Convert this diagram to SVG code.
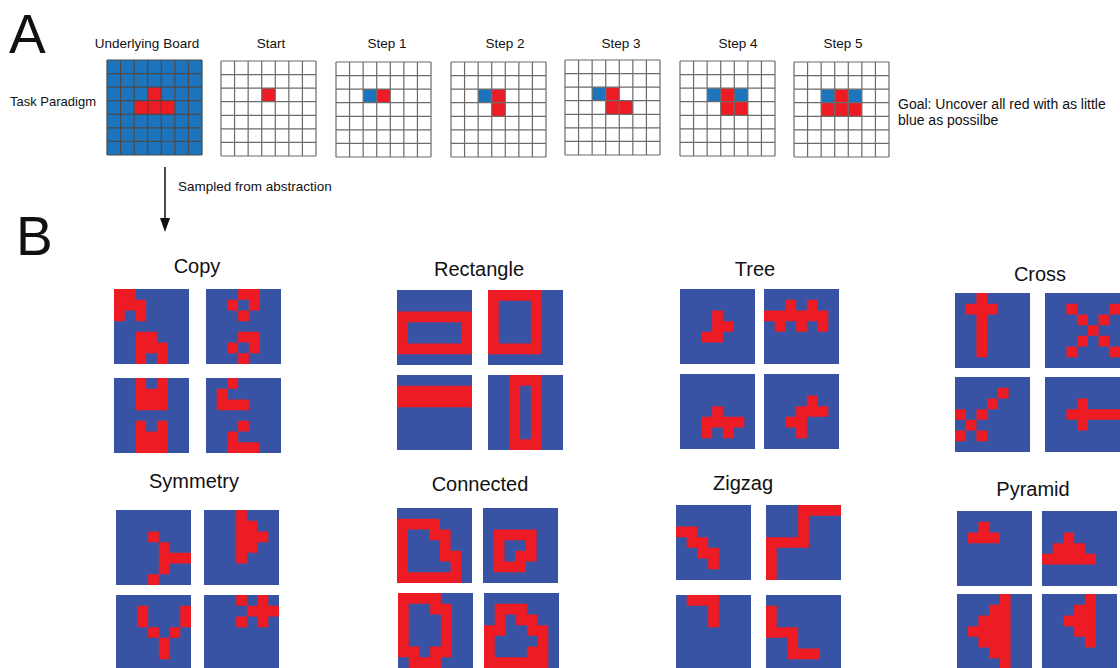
<svg xmlns="http://www.w3.org/2000/svg" xmlns:xlink="http://www.w3.org/1999/xlink" width="1120" height="668" viewBox="0 0 1120 668">
<style>
text{font-family:"Liberation Sans",Arial,sans-serif;fill:#111}
.big{font-size:55px}
.lab{font-size:13.5px;text-anchor:middle}
.side{font-size:13px}
.goal{font-size:14px}
.ttl{font-size:20px;text-anchor:middle}
.bb{fill:#3953a4}
.rb{fill:#ed1c24}
.ab{fill:#1c75bc}
.wh{fill:#ffffff}
</style>
<defs>
<path id="gl" fill="none" vector-effect="non-scaling-stroke" d="M0 0H7M0 1H7M0 2H7M0 3H7M0 4H7M0 5H7M0 6H7M0 7H7M0 0V7M1 0V7M2 0V7M3 0V7M4 0V7M5 0V7M6 0V7M7 0V7"/>
<rect id="bsq" width="7" height="7"/>
<marker id="ah" markerWidth="14" markerHeight="10" refX="1" refY="5" orient="auto" markerUnits="userSpaceOnUse" viewBox="0 0 14 10">
<path d="M0 0L14 5L0 10Z" fill="#111"/>
</marker>
</defs>

<g id="panel-A">
<text class="big" x="9" y="53">A</text>
<text class="side" x="10" y="106">Task Paradigm</text>
<g id="board" transform="translate(107,60) scale(13.571)">
<rect class="ab" width="7" height="7"/>
<path class="rb" d="M3 2h1v1h-1zM2 3h3v1h-3z"/>
<use xlink:href="#gl" stroke="#4a4a4a" stroke-width="1.2"/>
</g>
<text class="lab" x="147" y="48">Underlying Board</text>
<g id="start" transform="translate(221,61) scale(13.571)">
<rect class="wh" width="7" height="7"/>
<path class="rb" d="M3 2h1v1h-1z"/>
<use xlink:href="#gl" stroke="#6b6b6b" stroke-width="1.2"/>
</g>
<text class="lab" x="271" y="48">Start</text>
<g id="step1" transform="translate(336,62) scale(13.571)">
<rect class="wh" width="7" height="7"/>
<path class="ab" d="M2 2h1v1h-1z"/>
<path class="rb" d="M3 2h1v1h-1z"/>
<use xlink:href="#gl" stroke="#6b6b6b" stroke-width="1.2"/>
</g>
<text class="lab" x="387" y="48">Step 1</text>
<g id="step2" transform="translate(451,62) scale(13.571)">
<rect class="wh" width="7" height="7"/>
<path class="ab" d="M2 2h1v1h-1z"/>
<path class="rb" d="M3 2h1v2h-1z"/>
<use xlink:href="#gl" stroke="#6b6b6b" stroke-width="1.2"/>
</g>
<text class="lab" x="505" y="48">Step 2</text>
<g id="step3" transform="translate(565,60) scale(13.571)">
<rect class="wh" width="7" height="7"/>
<path class="ab" d="M2 2h1v1h-1z"/>
<path class="rb" d="M3 2h1v1h-1zM3 3h2v1h-2z"/>
<use xlink:href="#gl" stroke="#6b6b6b" stroke-width="1.2"/>
</g>
<text class="lab" x="621" y="48">Step 3</text>
<g id="step4" transform="translate(680,61) scale(13.571)">
<rect class="wh" width="7" height="7"/>
<path class="ab" d="M2 2h1v1h-1zM4 2h1v1h-1z"/>
<path class="rb" d="M3 2h1v1h-1zM3 3h2v1h-2z"/>
<use xlink:href="#gl" stroke="#6b6b6b" stroke-width="1.2"/>
</g>
<text class="lab" x="738" y="48">Step 4</text>
<g id="step5" transform="translate(794,62) scale(13.571)">
<rect class="wh" width="7" height="7"/>
<path class="ab" d="M2 2h1v1h-1zM4 2h1v1h-1z"/>
<path class="rb" d="M3 2h1v1h-1zM2 3h3v1h-3z"/>
<use xlink:href="#gl" stroke="#6b6b6b" stroke-width="1.2"/>
</g>
<text class="lab" x="843" y="48">Step 5</text>
<text class="goal" x="898" y="109">Goal: Uncover all red with as little</text>
<text class="goal" x="898" y="125">blue as possilbe</text>
</g>

<g id="connectors">
<line x1="165" y1="167" x2="165" y2="219" stroke="#111" stroke-width="1.5" marker-end="url(#ah)"/>
<text class="side" x="178" y="191" style="font-size:13.5px">Sampled from abstraction</text>
</g>

<g id="panel-B">
<text class="big" x="16" y="255">B</text>

<g id="copy">
<text class="ttl" x="197" y="273">Copy</text>
<g transform="translate(114,289) scale(10.714)"><use xlink:href="#bsq" class="bb"/><path class="rb" d="M0 0h2v1h-2zM0 1h3v1h-3zM0 2h1v1h-1zM2 2h1v1h-1zM2 4h2v1h-2zM2 5h3v1h-3zM2 6h1v1h-1zM4 6h1v1h-1z"/></g>
<g transform="translate(206,289) scale(10.714)"><use xlink:href="#bsq" class="bb"/><path class="rb" d="M3 0h2v1h-2zM2 1h1v1h-1zM4 1h1v1h-1zM3 2h1v1h-1zM3 4h2v1h-2zM2 5h1v1h-1zM4 5h1v1h-1zM3 6h1v1h-1z"/></g>
<g transform="translate(114,378) scale(10.714)"><use xlink:href="#bsq" class="bb"/><path class="rb" d="M2 0h1v1h-1zM4 0h1v1h-1zM2 1h3v2h-3zM2 4h1v1h-1zM4 4h1v1h-1zM2 5h3v2h-3z"/></g>
<g transform="translate(206,378) scale(10.714)"><use xlink:href="#bsq" class="bb"/><path class="rb" d="M2 0h1v1h-1zM1 1h1v1h-1zM1 2h3v1h-3zM3 4h1v1h-1zM2 5h1v1h-1zM2 6h3v1h-3z"/></g>
</g>

<g id="rectangle">
<text class="ttl" x="479" y="276">Rectangle</text>
<g transform="translate(397,290) scale(10.714)"><use xlink:href="#bsq" class="bb"/><path class="rb" d="M0 2h7v1h-7zM0 3h1v2h-1zM6 3h1v2h-1zM0 5h7v1h-7z"/></g>
<g transform="translate(488,290) scale(10.714)"><use xlink:href="#bsq" class="bb"/><path class="rb" d="M0 0h5v1h-5zM0 1h1v4h-1zM4 1h1v4h-1zM0 5h5v1h-5z"/></g>
<g transform="translate(397,375) scale(10.714)"><use xlink:href="#bsq" class="bb"/><path class="rb" d="M0 1h7v2h-7z"/></g>
<g transform="translate(488,375) scale(10.714)"><use xlink:href="#bsq" class="bb"/><path class="rb" d="M2 0h3v1h-3zM2 1h1v5h-1zM4 1h1v5h-1zM2 6h3v1h-3z"/></g>
</g>

<g id="tree">
<text class="ttl" x="755" y="276">Tree</text>
<g transform="translate(680,289) scale(10.714)"><use xlink:href="#bsq" class="bb"/><path class="rb" d="M3 2h1v1h-1zM3 3h2v1h-2zM2 4h2v1h-2z"/></g>
<g transform="translate(764,289) scale(10.714)"><use xlink:href="#bsq" class="bb"/><path class="rb" d="M2 1h1v1h-1zM4 1h1v1h-1zM0 2h6v1h-6zM1 3h1v1h-1zM3 3h1v1h-1zM5 3h1v1h-1z"/></g>
<g transform="translate(680,374) scale(10.714)"><use xlink:href="#bsq" class="bb"/><path class="rb" d="M3 3h1v1h-1zM2 4h4v1h-4zM2 5h1v1h-1zM4 5h1v1h-1z"/></g>
<g transform="translate(764,374) scale(10.714)"><use xlink:href="#bsq" class="bb"/><path class="rb" d="M4 2h1v1h-1zM3 3h3v1h-3zM2 4h2v1h-2zM3 5h1v1h-1z"/></g>
</g>

<g id="cross">
<text class="ttl" x="1040" y="281">Cross</text>
<g transform="translate(955,293) scale(10.714)"><use xlink:href="#bsq" class="bb"/><path class="rb" d="M2 0h1v6h-1zM1 1h3v1h-3z"/></g>
<g transform="translate(1045,293) scale(10.714)"><use xlink:href="#bsq" class="bb"/><path class="rb" d="M2 1h1v1h-1zM6 1h1v1h-1zM3 2h1v1h-1zM5 2h1v1h-1zM4 3h1v1h-1zM3 4h1v1h-1zM5 4h1v1h-1zM2 5h1v1h-1zM6 5h1v1h-1z"/></g>
<g transform="translate(955,377) scale(10.714)"><use xlink:href="#bsq" class="bb"/><path class="rb" d="M4 1h1v1h-1zM3 2h1v1h-1zM0 3h1v1h-1zM2 3h1v1h-1zM1 4h1v1h-1zM0 5h1v1h-1zM2 5h1v1h-1z"/></g>
<g transform="translate(1045,377) scale(10.714)"><use xlink:href="#bsq" class="bb"/><path class="rb" d="M3 2h1v1h-1zM2 3h5v1h-5zM3 4h1v1h-1z"/></g>
</g>

<g id="symmetry">
<text class="ttl" x="194" y="488">Symmetry</text>
<g transform="translate(116,510) scale(10.714)"><use xlink:href="#bsq" class="bb"/><path class="rb" d="M3 2h1v1h-1zM4 3h1v1h-1zM4 4h3v1h-3zM4 5h1v1h-1zM3 6h1v1h-1z"/></g>
<g transform="translate(204,510) scale(10.714)"><use xlink:href="#bsq" class="bb"/><path class="rb" d="M3 0h1v1h-1zM3 1h2v1h-2zM3 2h3v1h-3zM3 3h2v1h-2zM3 4h1v1h-1z"/></g>
<g transform="translate(116,595) scale(10.714)"><use xlink:href="#bsq" class="bb"/><path class="rb" d="M2 1h1v2h-1zM6 1h1v2h-1zM3 3h1v1h-1zM5 3h1v1h-1zM4 4h1v2h-1z"/></g>
<g transform="translate(204,595) scale(10.714)"><use xlink:href="#bsq" class="bb"/><path class="rb" d="M3 0h1v1h-1zM5 0h1v1h-1zM4 1h3v1h-3zM3 2h1v1h-1zM5 2h1v1h-1z"/></g>
</g>

<g id="connected">
<text class="ttl" x="480" y="491">Connected</text>
<g transform="translate(397,508) scale(10.714)"><use xlink:href="#bsq" class="bb"/><path class="rb" d="M0 1h4v1h-4zM0 2h1v4h-1zM3 2h2v1h-2zM4 3h1v1h-1zM4 4h2v1h-2zM5 5h1v1h-1zM0 6h6v1h-6z"/></g>
<g transform="translate(483,508) scale(10.714)"><use xlink:href="#bsq" class="bb"/><path class="rb" d="M1 2h4v1h-4zM1 3h1v2h-1zM4 3h1v2h-1zM3 4h1v1h-1zM1 5h3v1h-3z"/></g>
<g transform="translate(398,593) scale(10.714)"><use xlink:href="#bsq" class="bb"/><path class="rb" d="M0 0h4v1h-4zM0 1h1v5h-1zM3 1h2v1h-2zM4 2h1v4h-1zM1 5h1v1h-1zM3 5h1v1h-1zM1 6h3v1h-3z"/></g>
<g transform="translate(484,593) scale(10.714)"><use xlink:href="#bsq" class="bb"/><path class="rb" d="M1 1h3v1h-3zM1 2h1v1h-1zM3 2h2v1h-2zM0 3h2v1h-2zM4 3h2v1h-2zM0 4h1v2h-1zM5 4h1v2h-1zM4 5h1v1h-1zM0 6h6v1h-6z"/></g>
</g>

<g id="zigzag">
<text class="ttl" x="743" y="490">Zigzag</text>
<g transform="translate(676,505) scale(10.714)"><use xlink:href="#bsq" class="bb"/><path class="rb" d="M0 2h2v1h-2zM1 3h2v1h-2zM2 4h2v1h-2zM3 5h1v1h-1z"/></g>
<g transform="translate(766,505) scale(10.714)"><use xlink:href="#bsq" class="bb"/><path class="rb" d="M3 0h4v1h-4zM3 1h1v2h-1zM0 3h4v1h-4zM0 4h1v3h-1z"/></g>
<g transform="translate(676,595) scale(10.714)"><use xlink:href="#bsq" class="bb"/><path class="rb" d="M1 0h3v1h-3zM3 1h1v2h-1z"/></g>
<g transform="translate(766,595) scale(10.714)"><use xlink:href="#bsq" class="bb"/><path class="rb" d="M0 1h1v2h-1zM0 3h3v1h-3zM2 4h1v1h-1zM2 5h3v1h-3z"/></g>
</g>

<g id="pyramid">
<text class="ttl" x="1033" y="496">Pyramid</text>
<g transform="translate(957,511) scale(10.714)"><use xlink:href="#bsq" class="bb"/><path class="rb" d="M2 1h1v1h-1zM1 2h3v1h-3z"/></g>
<g transform="translate(1042,511) scale(10.714)"><use xlink:href="#bsq" class="bb"/><path class="rb" d="M2 2h1v1h-1zM1 3h3v1h-3zM0 4h5v1h-5z"/></g>
<g transform="translate(957,594) scale(10.714)"><use xlink:href="#bsq" class="bb"/><path class="rb" d="M4 0h1v7h-1zM3 1h1v1h-1zM2 2h2v1h-2zM1 3h3v1h-3zM2 4h2v1h-2zM3 5h1v1h-1z"/></g>
<g transform="translate(1042,594) scale(10.714)"><use xlink:href="#bsq" class="bb"/><path class="rb" d="M4 0h1v5h-1zM3 1h1v1h-1zM2 2h2v1h-2zM3 3h1v1h-1z"/></g>
</g>
</g>
</svg>
